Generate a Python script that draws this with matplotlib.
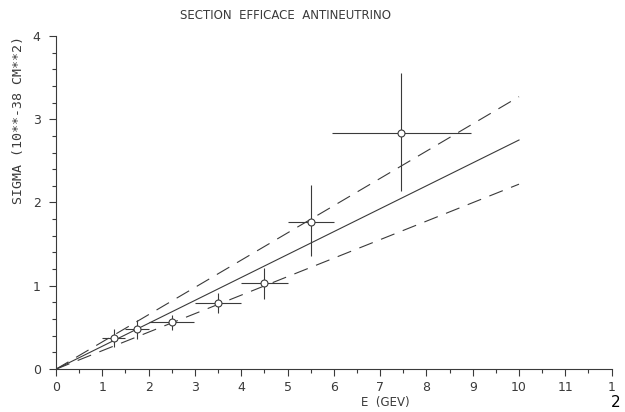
import matplotlib
matplotlib.use("Agg")
import matplotlib.pyplot as plt
import numpy as np

# data
energy = [1.25, 1.75, 2.5, 3.5, 4.5, 5.5, 7.46]
sigma = [0.37, 0.48, 0.56, 0.79, 1.03, 1.77, 2.83]
e_err = [0.25, 0.25, 0.49, 0.5, 0.5, 0.5, 1.5]
sig_lo = [0.11, 0.12, 0.09, 0.12, 0.19, 0.41, 0.69]
sig_hi = [0.11, 0.11, 0.09, 0.12, 0.18, 0.44, 0.72]

# straight-line fits: central and two bounds (slope in 10**-38 cm2 / GeV)
fit_range = [0, 10]
slope_mid = 0.275
slope_up = 0.327
slope_low = 0.222

x_ticks = list(range(0, 12))
y_ticks = [0, 1, 2, 3, 4]

ink = "#3a3a3a"
plt.rcParams["font.family"] = ["DejaVu Sans"]

fig = plt.figure(figsize=(6.25, 4.12), dpi=100)
ax = fig.add_axes([0.0896, 0.104, 0.889, 0.809])

xs = np.array(fit_range)
ax.plot(xs, slope_mid * xs, color=ink, lw=0.8)
ax.plot(xs, slope_up * xs, color=ink, lw=0.8, dashes=(13, 8))
ax.plot(xs, slope_low * xs, color=ink, lw=0.8, dashes=(13, 8))

ax.errorbar(energy, sigma, xerr=e_err, yerr=[sig_lo, sig_hi], fmt="o",
            mfc="white", mec=ink, ms=5, mew=0.8, ecolor=ink, elinewidth=0.8,
            capsize=0)

ax.set_xlim(0, 12)
ax.set_ylim(0, 4)
ax.spines["top"].set_visible(False)
ax.spines["right"].set_visible(False)
for s in ("left", "bottom"):
    ax.spines[s].set_color(ink)
    ax.spines[s].set_linewidth(0.8)

ax.set_xticks(x_ticks + [12])
ax.set_xticklabels([str(t) for t in x_ticks] + ["1"])
ax.set_xticks(np.arange(0.5, 12, 1.0), minor=True)
ax.set_yticks(y_ticks)
ax.set_yticks(np.arange(0, 4.01, 0.2), minor=True)
ax.tick_params(which="major", direction="out", length=5, width=0.8,
               color=ink, labelcolor=ink, labelsize=9)
ax.tick_params(which="minor", direction="out", length=3, width=0.8,
               color=ink)
ax.tick_params(axis="y", pad=6)

fig.text(0.616, 0.022, "E  (GEV)", ha="center", va="center", color=ink,
         fontsize=8.5)
fig.text(0.029, 0.709, "SIGMA (10**-38 CM**2)", rotation=90, ha="center",
         va="center", color=ink, fontsize=9.5, family="DejaVu Sans Mono")
fig.text(0.456, 0.962, "SECTION  EFFICACE  ANTINEUTRINO", ha="center",
         va="center", color=ink, fontsize=8.5)
fig.text(0.985, 0.022, "2", ha="center", va="center", color="black",
         fontsize=11)

fig.savefig("out.png", dpi=100)
